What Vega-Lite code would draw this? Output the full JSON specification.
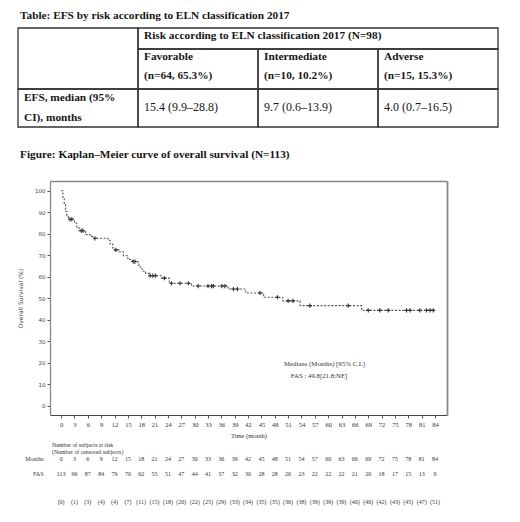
{
  "$schema": "https://vega.github.io/schema/vega-lite/v6.json",
  "width": 520,
  "height": 522,
  "autosize": {"type": "none"},
  "padding": 0,
  "background": "white",
  "config": {"view": {"stroke": null}, "text": {"font": "Liberation Serif"}},
  "datasets": {
    "cells": [
      {"c0": 0, "c1": 1, "r0": 0, "r1": 3},
      {"c0": 1, "c1": 4, "r0": 0, "r1": 1},
      {"c0": 1, "c1": 2, "r0": 1, "r1": 3},
      {"c0": 2, "c1": 3, "r0": 1, "r1": 3},
      {"c0": 3, "c1": 4, "r0": 1, "r1": 3},
      {"c0": 0, "c1": 1, "r0": 3, "r1": 5},
      {"c0": 1, "c1": 2, "r0": 3, "r1": 5},
      {"c0": 2, "c1": 3, "r0": 3, "r1": 5},
      {"c0": 3, "c1": 4, "r0": 3, "r1": 5}
    ],
    "tableText": [
      {"col": 1, "line": 0, "kind": "head", "text": "Risk according to ELN classification 2017 (N=98)"},
      {"col": 1, "line": 1, "kind": "head", "text": "Favorable"},
      {"col": 1, "line": 2, "kind": "head", "text": "(n=64, 65.3%)"},
      {"col": 2, "line": 1, "kind": "head", "text": "Intermediate"},
      {"col": 2, "line": 2, "kind": "head", "text": "(n=10, 10.2%)"},
      {"col": 3, "line": 1, "kind": "head", "text": "Adverse"},
      {"col": 3, "line": 2, "kind": "head", "text": "(n=15, 15.3%)"},
      {"col": 0, "line": 3, "kind": "head", "text": "EFS, median (95%"},
      {"col": 0, "line": 4, "kind": "head", "text": "CI), months"},
      {"col": 1, "line": 3.5, "kind": "value", "text": "15.4 (9.9–28.8)"},
      {"col": 2, "line": 3.5, "kind": "value", "text": "9.7 (0.6–13.9)"},
      {"col": 3, "line": 3.5, "kind": "value", "text": "4.0 (0.7–16.5)"}
    ],
    "captions": [
      {"caption": "Table: EFS by risk according to ELN classification 2017"},
      {"caption": "Figure: Kaplan–Meier curve of overall survival (N=113)"}
    ],
    "curve": [
      {"month": 0, "survival": 100},
      {"month": 0.4, "survival": 96.5},
      {"month": 0.7, "survival": 93.8},
      {"month": 1.0, "survival": 90.3},
      {"month": 1.3, "survival": 88.5},
      {"month": 1.6, "survival": 86.7},
      {"month": 3.0, "survival": 85.0},
      {"month": 3.5, "survival": 83.2},
      {"month": 4.0, "survival": 81.4},
      {"month": 5.5, "survival": 79.6},
      {"month": 6.5, "survival": 78.8},
      {"month": 7.3, "survival": 77.9},
      {"month": 10.5, "survival": 77.0},
      {"month": 11.0, "survival": 75.2},
      {"month": 11.6, "survival": 73.4},
      {"month": 12.0, "survival": 72.5},
      {"month": 13.0, "survival": 71.6},
      {"month": 14.0, "survival": 69.8},
      {"month": 15.0, "survival": 68.0},
      {"month": 16.0, "survival": 67.1},
      {"month": 17.3, "survival": 65.4},
      {"month": 17.8, "survival": 64.4},
      {"month": 18.2, "survival": 62.6},
      {"month": 19.0, "survival": 61.6},
      {"month": 19.8, "survival": 60.5},
      {"month": 22.5, "survival": 59.4},
      {"month": 24.3, "survival": 57.0},
      {"month": 29.3, "survival": 55.7},
      {"month": 37.5, "survival": 54.3},
      {"month": 41.5, "survival": 52.5},
      {"month": 45.5, "survival": 50.5},
      {"month": 49.8, "survival": 48.8},
      {"month": 53.7, "survival": 46.6},
      {"month": 67.5, "survival": 44.4},
      {"month": 84, "survival": 44.4}
    ],
    "censor": [
      {"month": 2.0, "survival": 86.7},
      {"month": 2.4, "survival": 86.7},
      {"month": 4.5, "survival": 81.4},
      {"month": 4.9, "survival": 81.4},
      {"month": 7.6, "survival": 77.9},
      {"month": 12.3, "survival": 72.5},
      {"month": 16.2, "survival": 67.1},
      {"month": 16.6, "survival": 67.1},
      {"month": 20.0, "survival": 60.5},
      {"month": 20.6, "survival": 60.5},
      {"month": 21.2, "survival": 60.5},
      {"month": 23.2, "survival": 59.4},
      {"month": 24.8, "survival": 57.0},
      {"month": 26.7, "survival": 57.0},
      {"month": 28.6, "survival": 57.0},
      {"month": 30.8, "survival": 55.7},
      {"month": 33.0, "survival": 55.7},
      {"month": 33.8, "survival": 55.7},
      {"month": 34.2, "survival": 55.7},
      {"month": 36.1, "survival": 55.7},
      {"month": 36.8, "survival": 55.7},
      {"month": 38.7, "survival": 54.3},
      {"month": 39.6, "survival": 54.3},
      {"month": 44.7, "survival": 52.5},
      {"month": 48.6, "survival": 50.5},
      {"month": 51.0, "survival": 48.8},
      {"month": 52.1, "survival": 48.8},
      {"month": 55.9, "survival": 46.6},
      {"month": 64.5, "survival": 46.6},
      {"month": 69.0, "survival": 44.4},
      {"month": 71.6, "survival": 44.4},
      {"month": 73.5, "survival": 44.4},
      {"month": 77.6, "survival": 44.4},
      {"month": 78.4, "survival": 44.4},
      {"month": 80.6, "survival": 44.4},
      {"month": 82.1, "survival": 44.4},
      {"month": 82.9, "survival": 44.4},
      {"month": 83.6, "survival": 44.4}
    ],
    "risk": [
      {"month": 0, "atRisk": 113, "censored": "(0)"},
      {"month": 3, "atRisk": 96, "censored": "(1)"},
      {"month": 6, "atRisk": 87, "censored": "(3)"},
      {"month": 9, "atRisk": 84, "censored": "(4)"},
      {"month": 12, "atRisk": 79, "censored": "(4)"},
      {"month": 15, "atRisk": 70, "censored": "(7)"},
      {"month": 18, "atRisk": 62, "censored": "(11)"},
      {"month": 21, "atRisk": 55, "censored": "(15)"},
      {"month": 24, "atRisk": 51, "censored": "(18)"},
      {"month": 27, "atRisk": 47, "censored": "(20)"},
      {"month": 30, "atRisk": 44, "censored": "(22)"},
      {"month": 33, "atRisk": 41, "censored": "(25)"},
      {"month": 36, "atRisk": 37, "censored": "(29)"},
      {"month": 39, "atRisk": 32, "censored": "(33)"},
      {"month": 42, "atRisk": 30, "censored": "(34)"},
      {"month": 45, "atRisk": 28, "censored": "(35)"},
      {"month": 48, "atRisk": 28, "censored": "(35)"},
      {"month": 51, "atRisk": 26, "censored": "(36)"},
      {"month": 54, "atRisk": 23, "censored": "(38)"},
      {"month": 57, "atRisk": 22, "censored": "(39)"},
      {"month": 60, "atRisk": 22, "censored": "(39)"},
      {"month": 63, "atRisk": 22, "censored": "(39)"},
      {"month": 66, "atRisk": 21, "censored": "(40)"},
      {"month": 69, "atRisk": 20, "censored": "(40)"},
      {"month": 72, "atRisk": 18, "censored": "(42)"},
      {"month": 75, "atRisk": 17, "censored": "(43)"},
      {"month": 78, "atRisk": 15, "censored": "(45)"},
      {"month": 81, "atRisk": 13, "censored": "(47)"},
      {"month": 84, "atRisk": 9, "censored": "(51)"}
    ],
    "riskHeader": [
      {"line": "Number of subjects at risk"},
      {"line": "(Number of censored subjects)"}
    ],
    "riskRows": [
      {"row": "Months"},
      {"row": "FAS"}
    ]
  },
  "resolve": {
    "scale": {"x": "independent", "y": "independent", "color": "independent"},
    "axis": {"x": "independent", "y": "independent"},
    "legend": {"color": "independent"}
  },
  "layer": [
    {
      "data": {"name": "cells"},
      "mark": {"type": "rect", "filled": false, "color": "#333333", "strokeWidth": 1.3},
      "encoding": {
        "x": {"field": "c0", "type": "quantitative", "scale": {"domain": [0, 4], "range": [18, 498], "nice": false, "zero": false}, "axis": null},
        "x2": {"field": "c1"},
        "y": {"field": "r0", "type": "quantitative", "scale": {"domain": [0, 1, 3, 5], "range": [28, 49, 89, 127], "nice": false, "zero": false}, "axis": null},
        "y2": {"field": "r1"}
      }
    },
    {
      "data": {"name": "tableText"},
      "transform": [{"filter": "datum.kind === 'head'"}],
      "mark": {"type": "text", "align": "left", "baseline": "alphabetic", "dx": 6, "font": "Liberation Serif", "fontSize": 11.3, "fontWeight": "bold", "color": "#161616"},
      "encoding": {
        "x": {"field": "col", "type": "quantitative", "scale": {"domain": [0, 4], "range": [18, 498], "nice": false, "zero": false}, "axis": null},
        "y": {"field": "line", "type": "quantitative", "scale": {"domain": [0, 1, 2, 3, 4], "range": [38.6, 60, 78.5, 100.7, 121], "nice": false, "zero": false}, "axis": null},
        "text": {"field": "text"}
      }
    },
    {
      "data": {"name": "tableText"},
      "transform": [{"filter": "datum.kind === 'value'"}],
      "mark": {"type": "text", "align": "left", "baseline": "alphabetic", "dx": 6, "font": "Liberation Serif", "fontSize": 12, "color": "#161616"},
      "encoding": {
        "x": {"field": "col", "type": "quantitative", "scale": {"domain": [0, 4], "range": [18, 498], "nice": false, "zero": false}, "axis": null},
        "y": {"field": "line", "type": "quantitative", "scale": {"domain": [0, 1, 2, 3, 4], "range": [38.6, 60, 78.5, 100.7, 121], "nice": false, "zero": false}, "axis": null},
        "text": {"field": "text"}
      }
    },
    {
      "data": {"name": "captions"},
      "mark": {"type": "text", "align": "left", "baseline": "alphabetic", "dx": 2, "font": "Liberation Serif", "fontSize": 11.3, "fontWeight": "bold", "color": "#161616"},
      "encoding": {
        "x": {"datum": 0, "type": "quantitative", "scale": {"domain": [0, 4], "range": [18, 498], "nice": false, "zero": false}, "axis": null},
        "y": {"field": "caption", "type": "nominal", "scale": {"type": "point", "domain": ["Table: EFS by risk according to ELN classification 2017", "Figure: Kaplan–Meier curve of overall survival (N=113)"], "range": [19.3, 158], "padding": 0}, "axis": null},
        "text": {"field": "caption"}
      }
    },
    {
      "data": {"name": "curve"},
      "mark": {"type": "line", "interpolate": "step-after", "strokeDash": [2, 1.6], "strokeWidth": 1.1},
      "encoding": {
        "x": {
          "field": "month", "type": "quantitative",
          "scale": {"domain": [-2.5, 86.7], "range": [50, 447], "nice": false, "zero": false},
          "axis": {
            "orient": "bottom", "offset": -107,
            "values": [0, 3, 6, 9, 12, 15, 18, 21, 24, 27, 30, 33, 36, 39, 42, 45, 48, 51, 54, 57, 60, 63, 66, 69, 72, 75, 78, 81, 84],
            "tickSize": 3, "tickColor": "#555555", "domainColor": "#444444", "domainWidth": 1.2,
            "labelFont": "Liberation Serif", "labelFontSize": 6.5, "labelColor": "#333333", "labelPadding": 3,
            "labelFlush": false, "labelOverlap": false, "grid": false,
            "title": "Time (month)", "titleFont": "Liberation Serif", "titleFontSize": 6.5, "titleFontWeight": "normal", "titleColor": "#333333", "titlePadding": 5
          }
        },
        "y": {
          "field": "survival", "type": "quantitative",
          "scale": {"domain": [-4.2, 104.5], "range": [415, 181], "nice": false, "zero": false},
          "axis": {
            "orient": "left", "offset": -50,
            "values": [0, 10, 20, 30, 40, 50, 60, 70, 80, 90, 100],
            "tickSize": 3, "tickColor": "#555555", "domainColor": "#888888", "domainWidth": 1.3,
            "labelFont": "DejaVu Sans", "labelFontSize": 5.5, "labelColor": "#444444", "labelPadding": 2,
            "labelFlush": false, "labelOverlap": false, "grid": false,
            "title": "Overall Survival (%)", "titleFont": "DejaVu Sans", "titleFontSize": 6, "titleFontWeight": "normal", "titleColor": "#444444", "titlePadding": 11
          }
        },
        "color": {
          "datum": "FAS : 49.8[21.8;NE]", "type": "nominal",
          "scale": {"range": ["#555555"]},
          "legend": {
            "orient": "none", "legendX": 284, "legendY": 361,
            "title": "Medians (Months) [95% C.I.]", "titleFont": "Liberation Serif", "titleFontSize": 6.8, "titleFontWeight": "normal", "titleColor": "#333333", "titlePadding": 5,
            "labelFont": "Liberation Serif", "labelFontSize": 6.8, "labelColor": "#333333", "labelOffset": 0,
            "symbolSize": 0, "symbolOpacity": 0, "symbolStrokeWidth": 0, "symbolType": "circle"
          }
        }
      }
    },
    {
      "data": {"name": "censor"},
      "mark": {"type": "point", "shape": "M-1,0L1,0M0,-1L0,1", "filled": false, "size": 18, "strokeWidth": 1.1, "color": "#333333", "opacity": 1},
      "encoding": {
        "x": {
          "field": "month", "type": "quantitative",
          "scale": {"domain": [-2.5, 86.7], "range": [50, 447], "nice": false, "zero": false},
          "axis": {"orient": "top", "offset": -181, "labels": false, "ticks": false, "title": null, "grid": false, "domainColor": "#888888", "domainWidth": 1.5}
        },
        "y": {
          "field": "survival", "type": "quantitative",
          "scale": {"domain": [-4.2, 104.5], "range": [415, 181], "nice": false, "zero": false},
          "axis": {"orient": "right", "offset": -73, "labels": false, "ticks": false, "title": null, "grid": false, "domainColor": "#888888", "domainWidth": 1.8}
        }
      }
    },
    {
      "data": {"name": "riskHeader"},
      "mark": {"type": "text", "align": "left", "baseline": "middle", "dx": 2, "font": "Liberation Serif", "fontSize": 5.8, "color": "#333333"},
      "encoding": {
        "x": {"datum": -2.5, "type": "quantitative", "scale": {"domain": [-2.5, 86.7], "range": [50, 447], "nice": false, "zero": false}, "axis": null},
        "y": {"field": "line", "type": "nominal", "scale": {"type": "point", "domain": ["Number of subjects at risk", "(Number of censored subjects)"], "range": [445, 452.3], "padding": 0}, "axis": null},
        "text": {"field": "line"}
      }
    },
    {
      "data": {"name": "riskRows"},
      "mark": {"type": "text", "align": "right", "baseline": "middle", "dx": -6.5, "font": "Liberation Serif", "fontSize": 6, "color": "#333333"},
      "encoding": {
        "x": {"datum": -2.5, "type": "quantitative", "scale": {"domain": [-2.5, 86.7], "range": [50, 447], "nice": false, "zero": false}, "axis": null},
        "y": {"field": "row", "type": "nominal", "scale": {"type": "point", "domain": ["Months", "FAS"], "range": [459, 474.3], "padding": 0}, "axis": null},
        "text": {"field": "row"}
      }
    },
    {
      "data": {"name": "risk"},
      "mark": {"type": "text", "align": "center", "baseline": "middle", "font": "Liberation Serif", "fontSize": 6, "color": "#333333"},
      "encoding": {
        "x": {"field": "month", "type": "quantitative", "scale": {"domain": [-2.5, 86.7], "range": [50, 447], "nice": false, "zero": false}, "axis": null},
        "y": {"datum": "Months", "type": "nominal", "scale": {"type": "point", "domain": ["Months", "FAS"], "range": [459, 474.3], "padding": 0}, "axis": null},
        "text": {"field": "month"}
      }
    },
    {
      "data": {"name": "risk"},
      "mark": {"type": "text", "align": "center", "baseline": "middle", "font": "Liberation Serif", "fontSize": 6, "color": "#333333"},
      "encoding": {
        "x": {"field": "month", "type": "quantitative", "scale": {"domain": [-2.5, 86.7], "range": [50, 447], "nice": false, "zero": false}, "axis": null},
        "y": {"datum": "FAS", "type": "nominal", "scale": {"type": "point", "domain": ["Months", "FAS"], "range": [459, 474.3], "padding": 0}, "axis": null},
        "text": {"field": "atRisk"}
      }
    },
    {
      "data": {"name": "risk"},
      "mark": {"type": "text", "align": "center", "baseline": "middle", "font": "Liberation Serif", "fontSize": 6, "color": "#333333"},
      "encoding": {
        "x": {"field": "month", "type": "quantitative", "scale": {"domain": [-2.5, 86.7], "range": [50, 447], "nice": false, "zero": false}, "axis": null},
        "y": {"datum": "censored", "type": "nominal", "scale": {"type": "point", "domain": ["FAS", "censored"], "range": [474.3, 501.5], "padding": 0}, "axis": null},
        "text": {"field": "censored"}
      }
    }
  ]
}
